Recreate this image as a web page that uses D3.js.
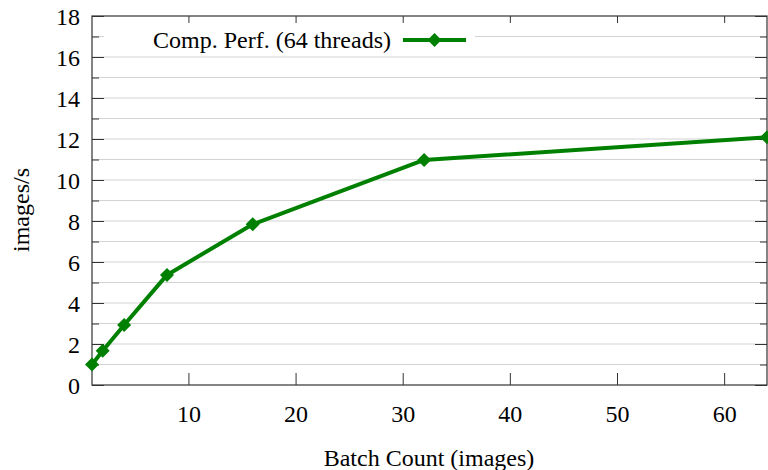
<!DOCTYPE html>
<html><head><meta charset="utf-8">
<script src="https://cdn.jsdelivr.net/npm/d3@7"></script>
<style>body{margin:0;background:#fff}svg{display:block}text{font-family:"Liberation Serif","Times New Roman",serif;fill:#000}</style>
</head><body><svg id="c" width="768" height="470"></svg>
<script>
const batch = [1, 2, 4, 8, 16, 32, 64];
const perf = [1.0, 1.67, 2.93, 5.37, 7.84, 10.98, 12.08];
const seriesName = "Comp. Perf. (64 threads)";
const xTicks = [10, 20, 30, 40, 50, 60];
const yTicks = [0, 2, 4, 6, 8, 10, 12, 14, 16, 18];
const yMinor = [1, 3, 5, 7, 9, 11, 13, 15, 17];
const xLabel = "Batch Count (images)";
const yLabel = "images/s";

const FONT = '"Liberation Serif","Times New Roman",serif';
const FS = "24px";
const L = 92, R = 767, T = 16, B = 385;
const svg = d3.select("#c");
const x = d3.scaleLinear().domain([1, 64]).range([L, R]);
const y = d3.scaleLinear().domain([0, 18]).range([B, T]);
const green = "#008000";

// gridlines
svg.append("g").selectAll("line").data(yTicks.concat(yMinor).filter(v => v > 0 && v < 18))
  .join("line").attr("x1", L).attr("x2", R).attr("y1", d => y(d)).attr("y2", d => y(d))
  .attr("stroke", "#d3d3d3").attr("stroke-width", 1.2);

// legend box (opaque)
svg.append("rect").attr("x", 104).attr("y", 27).attr("width", 371).attr("height", 20).attr("fill", "#fff");

// axes via d3 axis
const ax = svg.append("g");
const gB = ax.append("g").attr("transform", `translate(0,${B})`)
  .call(d3.axisBottom(x).tickValues(xTicks).tickSizeInner(-12).tickSizeOuter(0).tickPadding(20));
const gT = ax.append("g").attr("transform", `translate(0,${T})`)
  .call(d3.axisTop(x).tickValues(xTicks).tickSizeInner(-7).tickSizeOuter(0).tickFormat(""));
const gL = ax.append("g").attr("transform", `translate(${L},0)`)
  .call(d3.axisLeft(y).tickValues(yTicks).tickSizeInner(-12).tickSizeOuter(0).tickPadding(12));
const gR = ax.append("g").attr("transform", `translate(${R},0)`)
  .call(d3.axisRight(y).tickValues(yTicks).tickSizeInner(-12).tickSizeOuter(0).tickFormat(""));
const gLm = ax.append("g").attr("transform", `translate(${L},0)`)
  .call(d3.axisLeft(y).tickValues(yMinor).tickSizeInner(-7).tickSizeOuter(0).tickFormat(""));
const gRm = ax.append("g").attr("transform", `translate(${R},0)`)
  .call(d3.axisRight(y).tickValues(yMinor).tickSizeInner(-7).tickSizeOuter(0).tickFormat(""));
ax.selectAll(".domain").remove();
ax.selectAll("g").attr("font-family", null).attr("font-size", null);
ax.selectAll("line").attr("stroke", "#333");
ax.selectAll("text").style("font-family", FONT).style("font-size", FS).attr("fill", "#000");
gL.selectAll("text").attr("dy", "0.34em");
gB.selectAll("text").attr("dy", "0.71em");

// border
svg.append("rect").attr("x", L).attr("y", T).attr("width", R - L).attr("height", B - T)
  .attr("fill", "none").attr("stroke", "#333").attr("stroke-width", 1.2);

// line
const pts = batch.map((b, i) => [b, perf[i]]);
svg.append("path").datum(pts)
  .attr("d", d3.line().x(d => x(d[0])).y(d => y(d[1])))
  .attr("fill", "none").attr("stroke", green).attr("stroke-width", 4).attr("stroke-linejoin", "round");
const diamond = (cx, cy, r) => `M${cx},${cy - r}L${cx + r},${cy}L${cx},${cy + r}L${cx - r},${cy}Z`;
svg.append("g").selectAll("path").data(pts).join("path")
  .attr("d", d => diamond(x(d[0]), y(d[1]), 7)).attr("fill", green);

// legend
const ly = 40;
svg.append("text").attr("x", 391).attr("y", ly).attr("dy", "0.34em").attr("text-anchor", "end")
  .style("font-family", FONT).style("font-size", FS).text(seriesName);
svg.append("line").attr("x1", 403).attr("x2", 466).attr("y1", ly).attr("y2", ly)
  .attr("stroke", green).attr("stroke-width", 4);
svg.append("path").attr("d", diamond(434.5, ly, 7)).attr("fill", green);

// axis labels
svg.append("text").attr("x", 429).attr("y", 466).attr("text-anchor", "middle")
  .style("font-family", FONT).style("font-size", FS).text(xLabel);
svg.append("text").attr("transform", "translate(29,210) rotate(-90)").attr("text-anchor", "middle")
  .style("font-family", FONT).style("font-size", FS).text(yLabel);
</script></body></html>
